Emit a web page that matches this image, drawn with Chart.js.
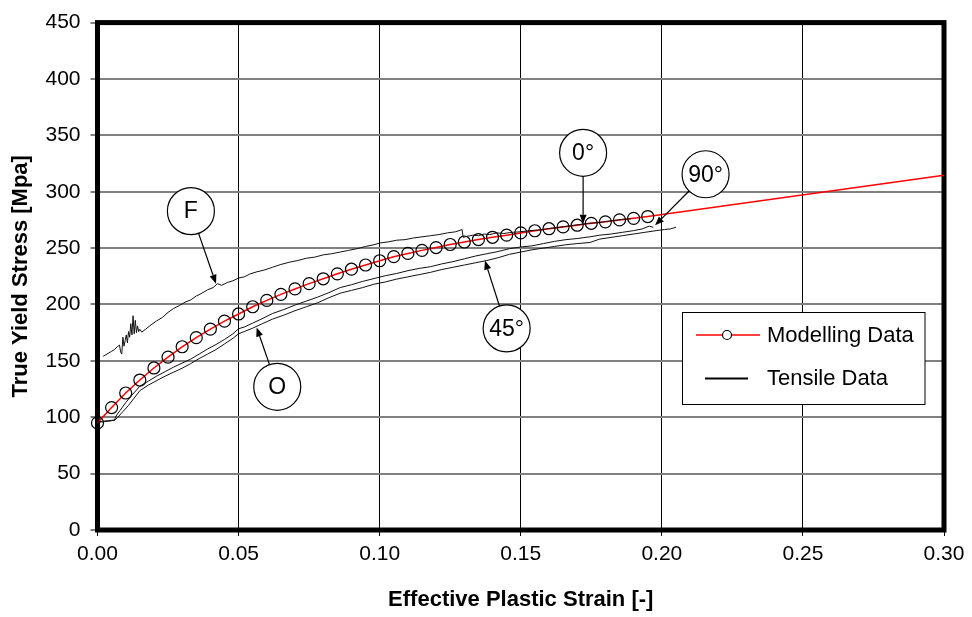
<!DOCTYPE html>
<html>
<head>
<meta charset="utf-8">
<script src="https://cdn.jsdelivr.net/npm/chart.js@4.4.1/dist/chart.umd.min.js"></script>
<style>
  html, body { margin: 0; padding: 0; background: #fff; }
  #wrap { width: 972px; height: 617px; }
</style>
</head>
<body>
<div id="wrap"><canvas id="stressChart"></canvas></div>
<script>
// Axis ticks
const strainTicks = [0, 0.05, 0.10, 0.15, 0.20, 0.25, 0.30];
const stressTicks = [0, 50, 100, 150, 200, 250, 300, 350, 400, 450];

// Modelling data (markers up to 0.195, line continues to 0.30)
const modelStrain = [0, 0.005, 0.010, 0.015, 0.020, 0.025, 0.030, 0.035, 0.040, 0.045,
    0.050, 0.055, 0.060, 0.065, 0.070, 0.075, 0.080, 0.085, 0.090, 0.095,
    0.100, 0.105, 0.110, 0.115, 0.120, 0.125, 0.130, 0.135, 0.140, 0.145,
    0.150, 0.155, 0.160, 0.165, 0.170, 0.175, 0.180, 0.185, 0.190, 0.195, 0.30];
const modelStress = [95, 108.6, 121.5, 133, 143.7, 153.3, 162.5, 170.6, 178.2, 185.2,
    191.6, 198, 203.6, 209, 213.8, 218.5, 222.8, 227.2, 231.3, 235,
    238.8, 242.4, 245.3, 248, 250.5, 253.2, 255.4, 257.6, 259.6, 261.5,
    263.5, 265.4, 267.2, 268.8, 270.3, 272, 273.3, 275, 276.4, 278, 314.6];

// Tensile curves
const fStrain = [0.002, 0.003, 0.004, 0.005, 0.006, 0.007, 0.0078, 0.0082, 0.0086, 0.009,
    0.0094, 0.0098, 0.0102, 0.0106, 0.011, 0.0114, 0.0118, 0.0122, 0.0126, 0.013,
    0.0134, 0.0138, 0.0142, 0.0146, 0.015, 0.0157, 0.017, 0.019, 0.021, 0.023,
    0.025, 0.027, 0.029, 0.031, 0.033, 0.035, 0.037, 0.039, 0.041, 0.0425,
    0.044, 0.046, 0.048, 0.050, 0.052, 0.054, 0.0565, 0.059, 0.062, 0.065,
    0.068, 0.071, 0.074, 0.077, 0.080, 0.083, 0.086, 0.089, 0.092, 0.095,
    0.098, 0.100, 0.103, 0.106, 0.109, 0.112, 0.115, 0.118, 0.121, 0.124,
    0.127, 0.1292, 0.1296];
const fStress = [154, 155.5, 157, 158.5, 160, 162.5, 164, 158, 156, 171,
    163, 168, 173, 166, 176, 171, 183, 173, 190, 174,
    186, 175, 181, 176, 178, 175.5, 178, 182, 185.5, 188.5,
    193, 196.5, 199, 202, 204, 207.5, 210, 213, 215, 218.5,
    217, 219.5, 221, 223.5, 224.5, 227, 229, 230.5, 233, 235.5,
    237.5, 239, 241, 242, 244, 245, 246.5, 248, 249.5, 251.5,
    253, 254.5, 255.5, 257, 257.5, 259, 260, 261, 262, 263.5,
    264.5, 266.5, 259.5];

const zeroStrain = [0.1296, 0.131, 0.133, 0.135, 0.137, 0.139, 0.1415, 0.144, 0.147, 0.150,
    0.153, 0.156, 0.159, 0.162, 0.165, 0.168, 0.171, 0.174, 0.177, 0.180,
    0.183, 0.186, 0.189];
const zeroStress = [259.5, 260.5, 261.5, 261, 262.5, 262, 263.5, 263, 264, 264.5,
    265.5, 266, 267, 268, 269, 270, 271, 272, 272.5, 273.5,
    274.5, 275.5, 276];

const s90Strain = [0, 0.002, 0.004, 0.006, 0.0068, 0.008, 0.010, 0.012, 0.015, 0.018,
    0.021, 0.024, 0.027, 0.030, 0.033, 0.036, 0.039, 0.042, 0.045, 0.048,
    0.050, 0.052, 0.055, 0.058, 0.062, 0.066, 0.070, 0.074, 0.078, 0.082,
    0.086, 0.090, 0.094, 0.098, 0.102, 0.106, 0.110, 0.114, 0.118, 0.122,
    0.126, 0.130, 0.134, 0.138, 0.142, 0.146, 0.150, 0.154, 0.158, 0.162,
    0.166, 0.170, 0.1745, 0.178, 0.182, 0.186, 0.190, 0.193, 0.1955, 0.197];
const s90Stress = [96, 96.5, 97, 97.5, 102, 106, 113, 119, 127.5, 132,
    136.5, 140.5, 144.5, 148, 151.5, 156, 160.5, 164.5, 169, 174,
    178.5, 180, 183.5, 187, 192, 195.5, 199.5, 203, 206.5, 210.5,
    215, 217.5, 220.5, 223, 225.5, 227.5, 230, 232, 233.5, 236,
    238, 240.5, 243, 245, 247, 249.5, 251, 252, 254, 256,
    257.5, 258.5, 260, 261.5, 262.5, 264, 265.5, 267, 269.5, 268.5];

const s45Strain = [0, 0.002, 0.004, 0.0062, 0.0072, 0.009, 0.011, 0.013, 0.015, 0.018,
    0.021, 0.024, 0.027, 0.030, 0.033, 0.036, 0.039, 0.042, 0.045, 0.048,
    0.050, 0.052, 0.055, 0.058, 0.062, 0.066, 0.070, 0.074, 0.078, 0.082,
    0.086, 0.090, 0.094, 0.098, 0.102, 0.106, 0.110, 0.114, 0.118, 0.122,
    0.126, 0.130, 0.134, 0.138, 0.142, 0.146, 0.150, 0.154, 0.158, 0.162,
    0.166, 0.170, 0.1745, 0.178, 0.182, 0.186, 0.190, 0.194, 0.198, 0.201,
    0.203, 0.205];
const s45Stress = [95.5, 96, 96.5, 97.5, 100, 105, 110.5, 117, 123.5, 128.5,
    132.5, 136.5, 140, 143.5, 147.5, 152, 156, 160, 165, 170,
    174, 176, 179, 182.5, 187, 190.5, 194.5, 198, 201.5, 206,
    210, 212.5, 215, 218, 220, 222.5, 224.5, 226.5, 228.5, 231,
    233, 235, 237, 239, 241.5, 244.5, 246.5, 248.5, 250, 251.5,
    253, 254, 255, 258, 259.5, 261, 262.5, 264, 265.5, 266.5,
    267, 268.5];

function toPoints(xs, ys) {
    return xs.map((x, i) => ({ x: x, y: ys[i] }));
}

const FONT = "'Liberation Sans', Arial, sans-serif";

// Labelled bubbles with arrows, in data units
const bubbles = [
    { text: 'F',   cx: 0.0331, cy: 282.8, tx: 0.0420, ty: 218.4 },
    { text: 'O',   cx: 0.0637, cy: 127.0, tx: 0.0564, ty: 179.6 },
    { text: '45°', cx: 0.1450, cy: 178.8, tx: 0.1373, ty: 239.0 },
    { text: '0°',  cx: 0.1721, cy: 334.5, tx: 0.1721, ty: 271.6 },
    { text: '90°', cx: 0.2155, cy: 315.5, tx: 0.1976, ty: 270.2 }
];

function drawArrow(ctx, x0, y0, x1, y1) {
    const ang = Math.atan2(y1 - y0, x1 - x0);
    const len = 9, half = 3.5;
    ctx.beginPath();
    ctx.moveTo(x0, y0);
    ctx.lineTo(x1 - Math.cos(ang) * len, y1 - Math.sin(ang) * len);
    ctx.stroke();
    ctx.beginPath();
    ctx.moveTo(x1, y1);
    ctx.lineTo(x1 - Math.cos(ang) * len - Math.sin(ang) * half, y1 - Math.sin(ang) * len + Math.cos(ang) * half);
    ctx.lineTo(x1 - Math.cos(ang) * len + Math.sin(ang) * half, y1 - Math.sin(ang) * len - Math.cos(ang) * half);
    ctx.closePath();
    ctx.fill();
}

const chartDecor = {
    id: 'chartDecor',
    beforeDatasetsDraw(chart) {
        const { ctx, chartArea: a } = chart;
        ctx.save();
        ctx.strokeStyle = '#000';
        ctx.lineWidth = 5;
        ctx.strokeRect(a.left, a.top, a.right - a.left, a.bottom - a.top);
        ctx.restore();
    },
    afterDatasetsDraw(chart) {
        const { ctx } = chart;
        const xs = chart.scales.x, ys = chart.scales.y;
        const r = 23.5;
        ctx.save();
        ctx.strokeStyle = '#000';
        ctx.fillStyle = '#000';
        ctx.lineWidth = 1.2;
        bubbles.forEach(b => {
            const cx = xs.getPixelForValue(b.cx), cy = ys.getPixelForValue(b.cy);
            const tx = xs.getPixelForValue(b.tx), ty = ys.getPixelForValue(b.ty);
            const d = Math.hypot(tx - cx, ty - cy);
            const sx = cx + (tx - cx) / d * r, sy = cy + (ty - cy) / d * r;
            ctx.fillStyle = '#000';
            drawArrow(ctx, sx, sy, tx, ty);
            ctx.beginPath();
            ctx.arc(cx, cy, r, 0, Math.PI * 2);
            ctx.fillStyle = '#fff';
            ctx.fill();
            ctx.stroke();
            ctx.fillStyle = '#000';
            ctx.font = '23px ' + FONT;
            ctx.textAlign = 'center';
            ctx.textBaseline = 'middle';
            ctx.fillText(b.text, cx, cy + 1);
        });

        // Legend box
        ctx.fillStyle = '#fff';
        ctx.fillRect(682.5, 312.5, 242.5, 92);
        ctx.lineWidth = 1;
        ctx.strokeStyle = '#000';
        ctx.strokeRect(682.5, 312.5, 242.5, 92);
        ctx.strokeStyle = '#ff0000';
        ctx.lineWidth = 1.5;
        ctx.beginPath();
        ctx.moveTo(696, 335);
        ctx.lineTo(760, 335);
        ctx.stroke();
        ctx.beginPath();
        ctx.arc(727, 335, 4.5, 0, Math.PI * 2);
        ctx.fillStyle = '#fff';
        ctx.fill();
        ctx.strokeStyle = '#000';
        ctx.lineWidth = 1.2;
        ctx.stroke();
        ctx.lineWidth = 2;
        ctx.strokeStyle = '#000';
        ctx.beginPath();
        ctx.moveTo(705, 378.5);
        ctx.lineTo(748, 378.5);
        ctx.stroke();
        ctx.fillStyle = '#000';
        ctx.font = '22px ' + FONT;
        ctx.textAlign = 'left';
        ctx.textBaseline = 'middle';
        ctx.fillText('Modelling Data', 767, 336);
        ctx.fillText('Tensile Data', 767, 379);
        ctx.restore();
    }
};

const tensileStyle = {
    borderColor: '#111',
    borderWidth: 1,
    pointRadius: 0,
    showLine: true,
    tension: 0
};

new Chart(document.getElementById('stressChart'), {
    type: 'scatter',
    data: {
        datasets: [
            Object.assign({ label: 'F', data: toPoints(fStrain, fStress) }, tensileStyle),
            Object.assign({ label: '0°', data: toPoints(zeroStrain, zeroStress) }, tensileStyle),
            Object.assign({ label: '90°', data: toPoints(s90Strain, s90Stress) }, tensileStyle),
            Object.assign({ label: '45°', data: toPoints(s45Strain, s45Stress) }, tensileStyle),
            {
                label: 'Modelling Data',
                data: toPoints(modelStrain, modelStress),
                showLine: true,
                borderColor: '#ff0000',
                borderWidth: 1.5,
                pointRadius: ctx => ctx.dataIndex < modelStrain.length - 1 ? 6 : 0,
                pointBorderColor: '#000',
                pointBorderWidth: 1.2,
                pointBackgroundColor: 'rgba(0,0,0,0)',
                clip: false
            }
        ]
    },
    options: {
        responsive: true,
        maintainAspectRatio: false,
        animation: false,
        layout: { padding: { top: 16.5, right: 28, left: 0, bottom: 0 } },
        plugins: {
            legend: { display: false },
            tooltip: { enabled: false }
        },
        scales: {
            x: {
                type: 'linear',
                min: 0,
                max: 0.30,
                afterFit: scale => { scale.height = 87; },
                afterBuildTicks: scale => { scale.ticks = strainTicks.map(v => ({ value: v })); },
                ticks: {
                    color: '#000',
                    padding: 6,
                    maxRotation: 0,
                    font: { family: FONT, size: 21 },
                    callback: v => Number(v).toFixed(2)
                },
                grid: { color: '#000', lineWidth: 1, tickLength: 6, tickColor: '#000' },
                border: { display: false },
                title: {
                    display: true,
                    text: 'Effective Plastic Strain [-]',
                    color: '#000',
                    font: { family: FONT, size: 22, weight: 'bold' },
                    padding: { top: 0, bottom: 4 }
                }
            },
            y: {
                type: 'linear',
                min: 0,
                max: 450,
                afterFit: scale => { scale.width = 97.5; },
                afterBuildTicks: scale => { scale.ticks = stressTicks.map(v => ({ value: v })); },
                ticks: {
                    color: '#000',
                    padding: 10,
                    font: { family: FONT, size: 21 }
                },
                grid: { color: '#808080', lineWidth: 2, tickLength: 7, tickColor: '#808080' },
                border: { display: false },
                title: {
                    display: true,
                    text: 'True Yield Stress [Mpa]',
                    color: '#000',
                    font: { family: FONT, size: 22, weight: 'bold' },
                    padding: { top: 8, bottom: 0 }
                }
            }
        }
    },
    plugins: [chartDecor]
});
</script>
</body>
</html>
